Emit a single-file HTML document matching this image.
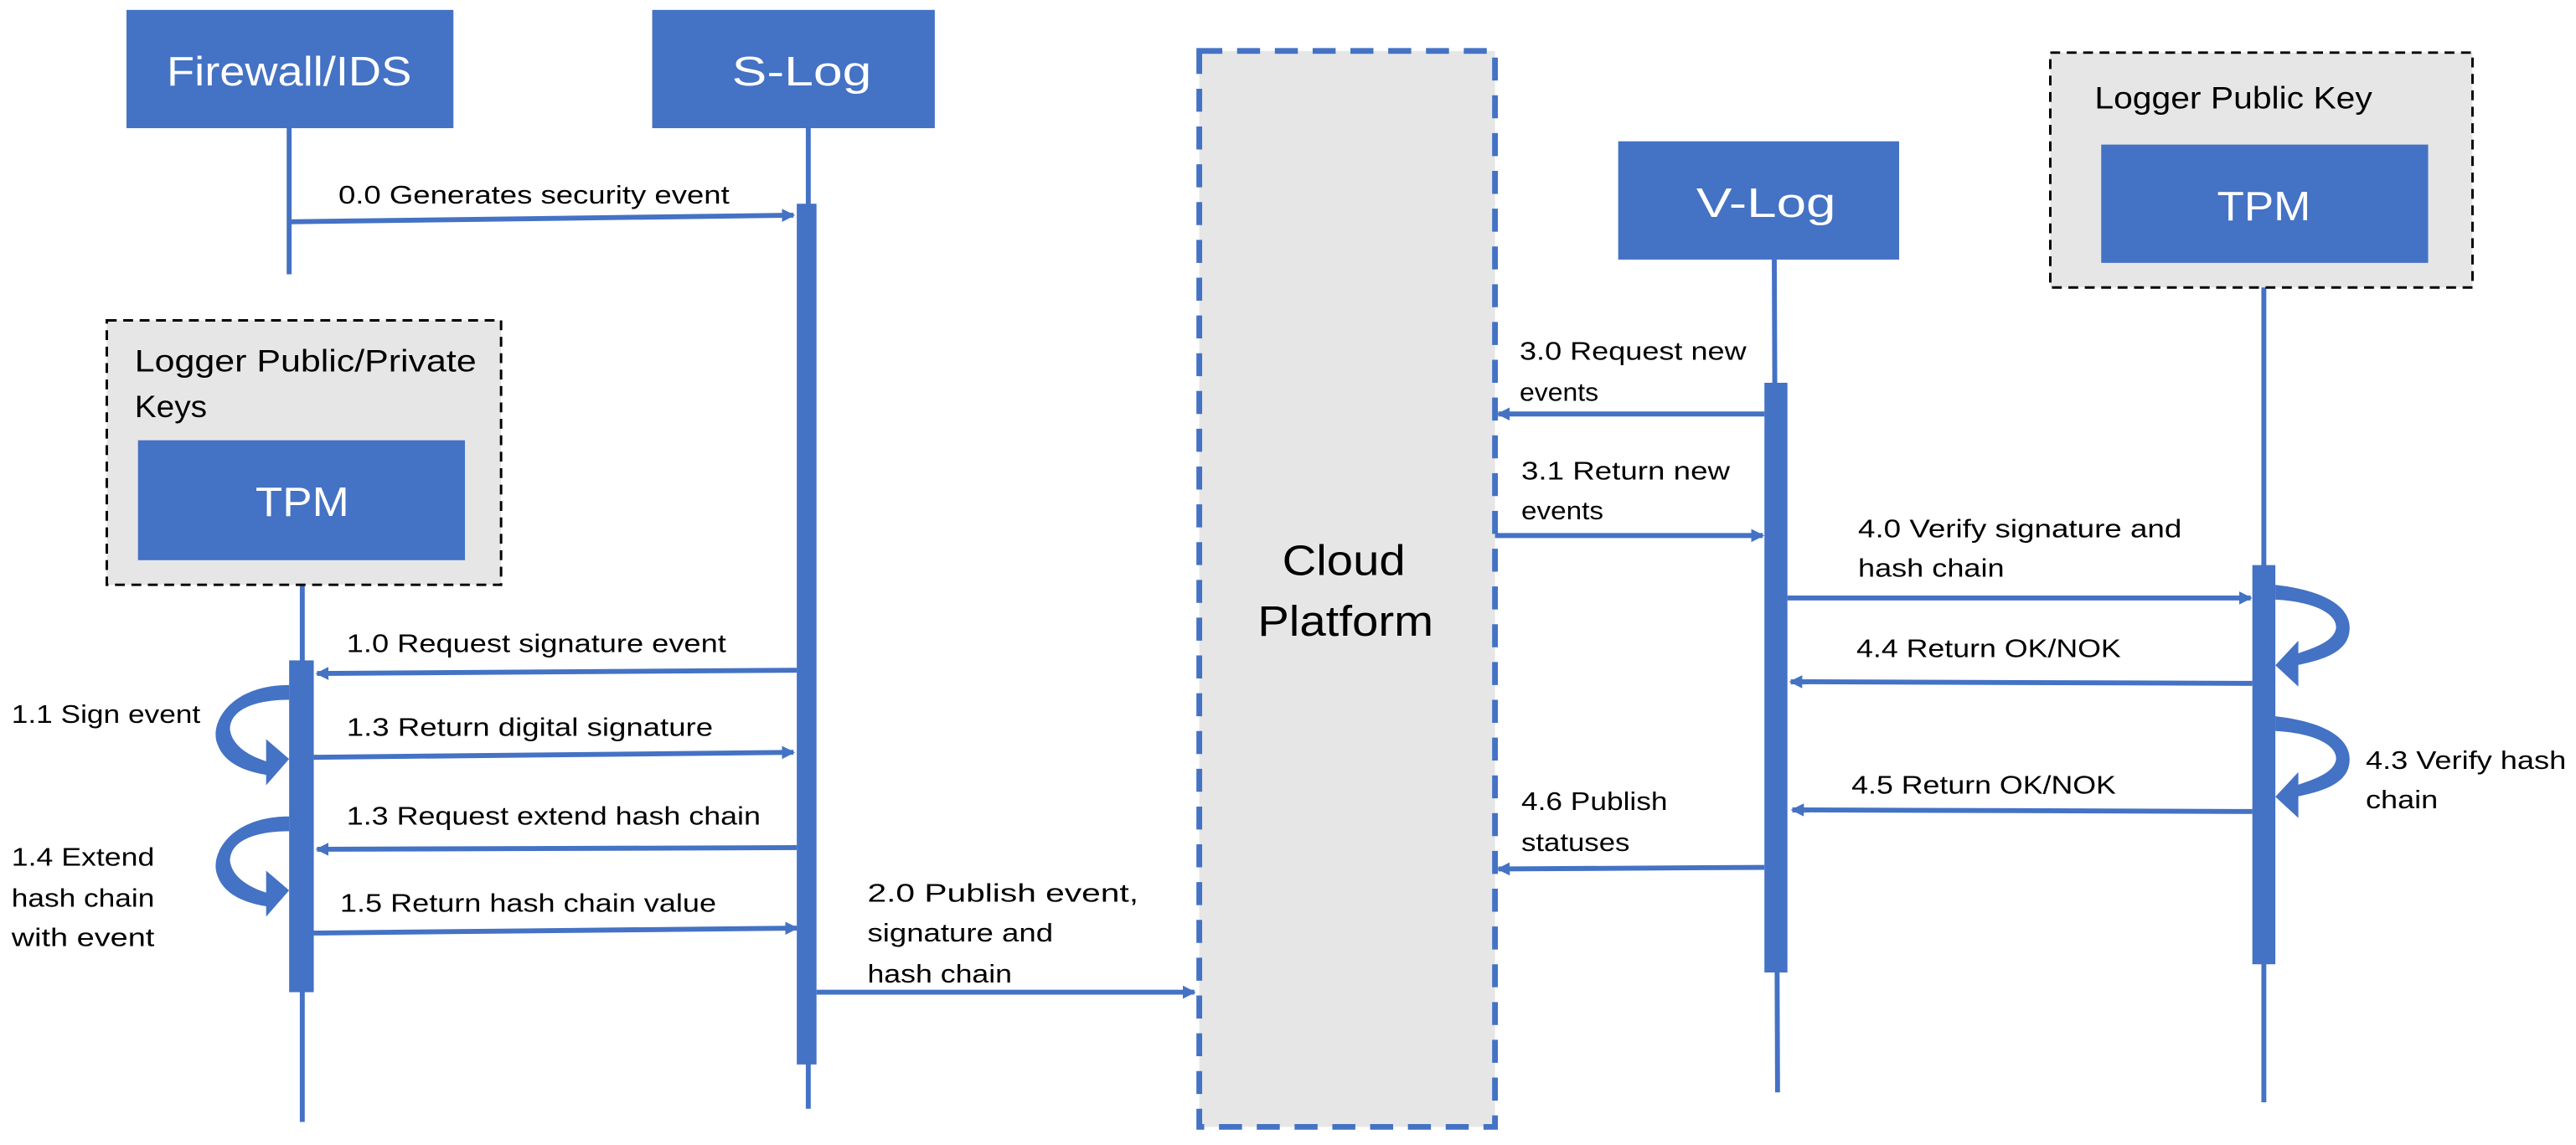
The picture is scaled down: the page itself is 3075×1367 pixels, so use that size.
<!DOCTYPE html>
<html><head><meta charset="utf-8"><style>
html,body{margin:0;padding:0;background:#fff;}
svg{display:block;}
text{font-family:"Liberation Sans",sans-serif;fill:#000;}
.t{font-size:15.5px;}
.w{fill:#fff;font-size:25px;}
</style></head><body>
<svg width="3075" height="1367" viewBox="0 0 1568 697" xmlns="http://www.w3.org/2000/svg">
<defs>
<marker id="ah" markerWidth="8" markerHeight="8" refX="7" refY="4" orient="auto" markerUnits="userSpaceOnUse">
<path d="M0,0 L8,4 L0,8 z" fill="#4472c4"/></marker>
</defs>
<g stroke="#4472c4" fill="none">
<!-- lifelines -->
<line x1="176" y1="78" x2="176" y2="167" stroke-width="3"/>
<line x1="492" y1="78" x2="492" y2="675" stroke-width="3"/>
<line x1="184" y1="341" x2="184" y2="683" stroke-width="3"/>
<line x1="1080" y1="158" x2="1082" y2="665" stroke-width="3"/>
<line x1="1378" y1="160" x2="1378" y2="671" stroke-width="3"/>
</g>
<!-- dashed boxes -->
<rect x="65" y="195" width="240" height="161" fill="#e6e6e6" stroke="#000" stroke-width="1.5" stroke-dasharray="6,4"/>
<rect x="1248" y="32" width="257" height="143" fill="#e6e6e6" stroke="#000" stroke-width="1.5" stroke-dasharray="6,4"/>
<rect x="730" y="31" width="180" height="655" fill="#e6e6e6" stroke="#4472c4" stroke-width="3.5" stroke-dasharray="14,9"/>
<!-- boxes -->
<g fill="#4472c4">
<rect x="77" y="6" width="199" height="72"/>
<rect x="397" y="6" width="172" height="72"/>
<rect x="84" y="268" width="199" height="73"/>
<rect x="985" y="86" width="171" height="72"/>
<rect x="1279" y="88" width="199" height="72"/>
<!-- activation bars -->
<rect x="485" y="124" width="12" height="524"/>
<rect x="176" y="402" width="15" height="202"/>
<rect x="1074" y="233" width="14" height="359"/>
<rect x="1371" y="344" width="14" height="243"/>
</g>
<lin/>
<!-- lifeline lines above S-log activation -->
<g stroke="#4472c4" stroke-width="3" fill="none">
<line x1="176" y1="135" x2="483" y2="131" marker-end="url(#ah)"/>
<line x1="485" y1="408" x2="193" y2="410" marker-end="url(#ah)"/>
<line x1="191" y1="461" x2="483" y2="458" marker-end="url(#ah)"/>
<line x1="485" y1="516" x2="193" y2="517" marker-end="url(#ah)"/>
<line x1="191" y1="568" x2="485" y2="565" marker-end="url(#ah)"/>
<line x1="497" y1="604" x2="727" y2="604" marker-end="url(#ah)"/>
<line x1="1074" y1="252" x2="912" y2="252" marker-end="url(#ah)"/>
<line x1="910" y1="326" x2="1073" y2="326" marker-end="url(#ah)"/>
<line x1="1088" y1="364" x2="1370" y2="364" marker-end="url(#ah)"/>
<line x1="1371" y1="416" x2="1090" y2="415" marker-end="url(#ah)"/>
<line x1="1371" y1="494" x2="1091" y2="493" marker-end="url(#ah)"/>
<line x1="1074" y1="528" x2="912" y2="529" marker-end="url(#ah)"/>
</g>
<!-- self arrows -->
<g fill="#4472c4">
<path d="M176,417 C140,417 128,440 132,452 C136,465 150,470 164,472 L164,464 C150,460 141,453 140,444 C140,432 155,426 176,426 z"/>
<path d="M162,450 L176,462 L162,478 z"/>
<path d="M176,497 C140,497 128,520 132,532 C136,545 150,550 164,552 L164,544 C150,540 141,533 140,524 C140,512 155,506 176,506 z"/>
<path d="M162,530 L176,542 L162,558 z"/>
<path d="M1385,356 C1420,360 1432,372 1430,385 C1428,398 1412,402 1398,405 L1398,398 C1410,394 1421,390 1422,382 C1422,372 1405,366 1385,365 z"/>
<path d="M1399,390 L1385,405 L1399,418 z"/>
<path d="M1385,436 C1420,440 1432,452 1430,465 C1428,478 1412,482 1398,485 L1398,478 C1410,474 1421,470 1422,462 C1422,452 1405,446 1385,445 z"/>
<path d="M1399,470 L1385,485 L1399,498 z"/>
</g>
<!-- titles -->
<text class="w" x="176" y="52" text-anchor="middle" textLength="149" lengthAdjust="spacingAndGlyphs">Firewall/IDS</text>
<text class="w" x="488" y="52" text-anchor="middle" textLength="85" lengthAdjust="spacingAndGlyphs">S-Log</text>
<text class="w" x="184" y="314" text-anchor="middle" textLength="57" lengthAdjust="spacingAndGlyphs">TPM</text>
<text class="w" x="1075" y="132" text-anchor="middle" textLength="85" lengthAdjust="spacingAndGlyphs">V-Log</text>
<text class="w" x="1378" y="134" text-anchor="middle" textLength="57" lengthAdjust="spacingAndGlyphs">TPM</text>
<text x="818" y="350" text-anchor="middle" style="font-size:26px" textLength="75" lengthAdjust="spacingAndGlyphs">Cloud</text>
<text x="819" y="387" text-anchor="middle" style="font-size:26px" textLength="107" lengthAdjust="spacingAndGlyphs">Platform</text>
<text style="font-size:19px" x="82" y="226" textLength="208" lengthAdjust="spacingAndGlyphs">Logger Public/Private</text>
<text style="font-size:19px" x="82" y="254" textLength="44" lengthAdjust="spacingAndGlyphs">Keys</text>
<text style="font-size:19px" x="1275" y="66" textLength="169" lengthAdjust="spacingAndGlyphs">Logger Public Key</text>
<!-- labels -->
<g class="t">
<text x="206" y="124" textLength="238" lengthAdjust="spacingAndGlyphs">0.0 Generates security event</text>
<text x="211" y="397" textLength="231" lengthAdjust="spacingAndGlyphs">1.0 Request signature event</text>
<text x="7" y="440" textLength="115" lengthAdjust="spacingAndGlyphs">1.1 Sign event</text>
<text x="211" y="448" textLength="223" lengthAdjust="spacingAndGlyphs">1.3 Return digital signature</text>
<text x="211" y="502" textLength="252" lengthAdjust="spacingAndGlyphs">1.3 Request extend hash chain</text>
<text x="7" y="527" textLength="87" lengthAdjust="spacingAndGlyphs">1.4 Extend</text>
<text x="7" y="552" textLength="87" lengthAdjust="spacingAndGlyphs">hash chain</text>
<text x="7" y="576" textLength="87" lengthAdjust="spacingAndGlyphs">with event</text>
<text x="207" y="555" textLength="229" lengthAdjust="spacingAndGlyphs">1.5 Return hash chain value</text>
<text x="528" y="549" textLength="165" lengthAdjust="spacingAndGlyphs">2.0 Publish event,</text>
<text x="528" y="573" textLength="113" lengthAdjust="spacingAndGlyphs">signature and</text>
<text x="528" y="598" textLength="88" lengthAdjust="spacingAndGlyphs">hash chain</text>
<text x="925" y="219" textLength="138" lengthAdjust="spacingAndGlyphs">3.0 Request new</text>
<text x="925" y="244" textLength="48" lengthAdjust="spacingAndGlyphs">events</text>
<text x="926" y="292" textLength="127" lengthAdjust="spacingAndGlyphs">3.1 Return new</text>
<text x="926" y="316" textLength="50" lengthAdjust="spacingAndGlyphs">events</text>
<text x="1131" y="327" textLength="197" lengthAdjust="spacingAndGlyphs">4.0 Verify signature and</text>
<text x="1131" y="351" textLength="89" lengthAdjust="spacingAndGlyphs">hash chain</text>
<text x="1130" y="400" textLength="161" lengthAdjust="spacingAndGlyphs">4.4 Return OK/NOK</text>
<text x="1127" y="483" textLength="161" lengthAdjust="spacingAndGlyphs">4.5 Return OK/NOK</text>
<text x="926" y="493" textLength="89" lengthAdjust="spacingAndGlyphs">4.6 Publish</text>
<text x="926" y="518" textLength="66" lengthAdjust="spacingAndGlyphs">statuses</text>
<text x="1440" y="468" textLength="122" lengthAdjust="spacingAndGlyphs">4.3 Verify hash</text>
<text x="1440" y="492" textLength="44" lengthAdjust="spacingAndGlyphs">chain</text>
</g>
</svg>
</body></html>
